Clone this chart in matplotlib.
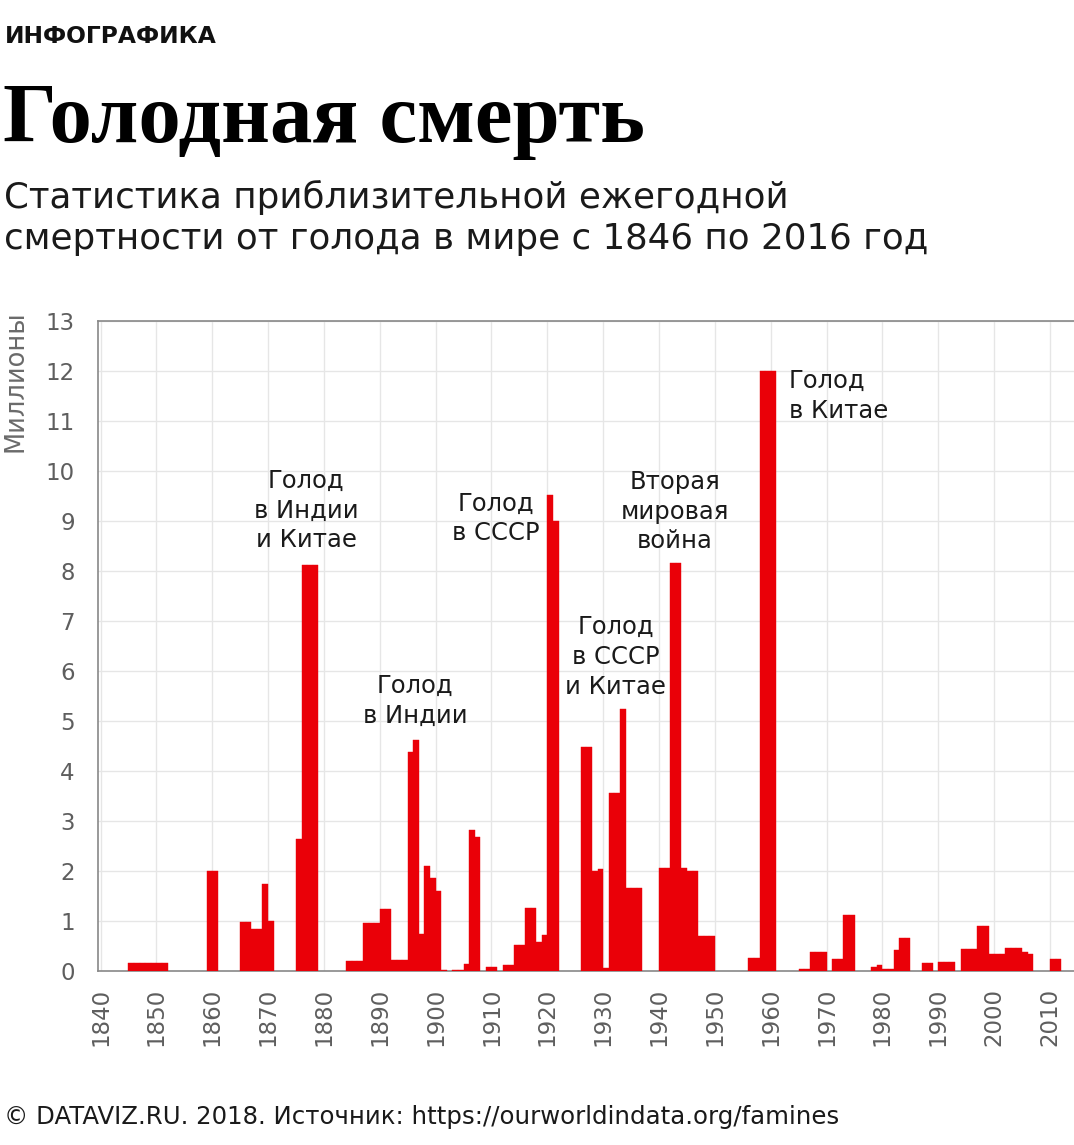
import matplotlib
matplotlib.use("Agg")
import matplotlib.pyplot as plt

plt.rcParams['font.family'] = ['DejaVu Sans']

# ---- data: approximate annual famine deaths (millions) ----
years = [1845, 1846, 1847, 1848, 1849, 1850, 1851,
         1859, 1860,
         1865, 1866, 1867, 1868, 1869, 1870,
         1875, 1876, 1877, 1878,
         1884, 1885, 1886, 1887, 1888, 1889, 1890, 1891, 1892, 1893, 1894,
         1895, 1896, 1897, 1898, 1899, 1900, 1901,
         1903, 1904, 1905, 1906, 1907, 1909, 1910,
         1912, 1913, 1914, 1915, 1916, 1917, 1918, 1919, 1920, 1921,
         1926, 1927, 1928, 1929, 1930, 1931, 1932, 1933, 1934, 1935, 1936,
         1940, 1941, 1942, 1943, 1944, 1945, 1946, 1947, 1948, 1949,
         1956, 1957, 1958, 1959, 1960,
         1965, 1966, 1967, 1968, 1969, 1971, 1972, 1973, 1974,
         1978, 1979, 1980, 1981, 1982, 1983, 1984,
         1987, 1988, 1990, 1991, 1992,
         1994, 1995, 1996, 1997, 1998, 1999, 2000, 2001,
         2002, 2003, 2004, 2005, 2006, 2010, 2011]
deaths = [0.15, 0.15, 0.15, 0.15, 0.15, 0.15, 0.15,
          2.0, 2.0,
          0.97, 0.97, 0.84, 0.84, 1.74, 1.0,
          2.64, 8.12, 8.12, 8.12,
          0.2, 0.2, 0.2, 0.96, 0.96, 0.96, 1.24, 1.24, 0.22, 0.22, 0.22,
          4.37, 4.62, 0.73, 2.09, 1.86, 1.60, 0.02,
          0.02, 0.02, 0.13, 2.82, 2.68, 0.07, 0.07,
          0.12, 0.12, 0.51, 0.51, 1.25, 1.25, 0.57, 0.71, 9.51, 9.0,
          4.48, 4.48, 1.99, 2.03, 0.05, 3.56, 3.56, 5.23, 1.65, 1.65, 1.65,
          2.06, 2.06, 8.16, 8.16, 2.05, 2.0, 2.0, 0.69, 0.69, 0.69,
          0.25, 0.25, 12.0, 12.0, 12.0,
          0.04, 0.04, 0.38, 0.38, 0.38, 0.24, 0.24, 1.12, 1.12,
          0.08, 0.11, 0.03, 0.03, 0.42, 0.66, 0.66,
          0.16, 0.16, 0.17, 0.17, 0.17,
          0.44, 0.44, 0.44, 0.89, 0.89, 0.33, 0.33, 0.33,
          0.46, 0.46, 0.46, 0.38, 0.34, 0.24, 0.24]

decade_ticks = list(range(1840, 2011, 10))
y_ticks = list(range(0, 14))

notes = ["Голод\nв Индии\nи Китае", "Голод\nв Индии", "Голод\nв СССР",
         "Голод\nв СССР\nи Китае", "Вторая\nмировая\nвойна", "Голод\nв Китае"]
note_x = [1876.8, 1896.3, 1910.8, 1932.2, 1942.8, 1963.2]
note_y = [9.2, 5.4, 9.05, 6.28, 9.18, 11.5]
note_ha = ["center", "center", "center", "center", "center", "left"]

RED = "#ea0008"
GRID = "#e6e6e6"
TXT = "#1a1a1a"
GRAY = "#5e5e5e"

fig = plt.figure(figsize=(10.74, 11.45), dpi=100)
ax = fig.add_axes([98.3 / 1074, 1 - 971 / 1145, 1 - 98.3 / 1074, (971 - 320.7) / 1145])

ax.bar(years, deaths, width=1.0, align='edge', color=RED, edgecolor=RED,
       linewidth=0.3, zorder=3)

ax.set_xlim(1839.6, 2014.3)
ax.set_ylim(0, 13)
ax.set_xticks(decade_ticks)
ax.set_xticklabels([str(t) for t in decade_ticks], rotation=90, va='top', ha='center')
ax.set_yticks(y_ticks)
ax.set_yticklabels([str(t) for t in y_ticks])
ax.tick_params(axis='both', length=0, labelcolor=GRAY)
ax.tick_params(axis='x', pad=12, labelsize=16.5)
ax.tick_params(axis='y', pad=17, labelsize=16.5)
ax.grid(True, color=GRID, linewidth=1.0, zorder=0)
ax.set_axisbelow(True)
for s in ['left', 'top', 'bottom']:
    ax.spines[s].set_color('#888888')
    ax.spines[s].set_linewidth(1.2)
ax.spines['right'].set_visible(False)

ax.set_ylabel("Миллионы", fontsize=18.5, color='#6a6a6a')
ax.yaxis.set_label_coords(-83 / 975.7, (971 - 381) / 650.3)
ax.yaxis.label.set_va('center')

for txt, x, y, ha in zip(notes, note_x, note_y, note_ha):
    ax.text(x, y, txt, ha=ha, va='center', fontsize=17.5, color=TXT,
            linespacing=1.3, zorder=5)

fig.text(5 / 1074, 1 - 43 / 1145, "ИНФОГРАФИКА", fontsize=16.8, fontweight='bold',
         color='#111111', va='baseline', ha='left')
fig.text(3 / 1074, 1 - 141.7 / 1145, "Голодная смерть", fontsize=61, fontweight='bold',
         family=['Liberation Serif'], color='#000000', va='baseline', ha='left')
fig.text(4 / 1074, 1 - 208 / 1145, "Статистика приблизительной ежегодной",
         fontsize=25.7, color=TXT, va='baseline', ha='left')
fig.text(4 / 1074, 1 - 249 / 1145, "смертности от голода в мире с 1846 по 2016 год",
         fontsize=25.7, color=TXT, va='baseline', ha='left')
fig.text(4 / 1074, 1 - 1124 / 1145,
         "© DATAVIZ.RU. 2018. Источник: https://ourworldindata.org/famines",
         fontsize=17.6, color=TXT, va='baseline', ha='left')

fig.savefig("out.png", dpi=100, facecolor='white')
